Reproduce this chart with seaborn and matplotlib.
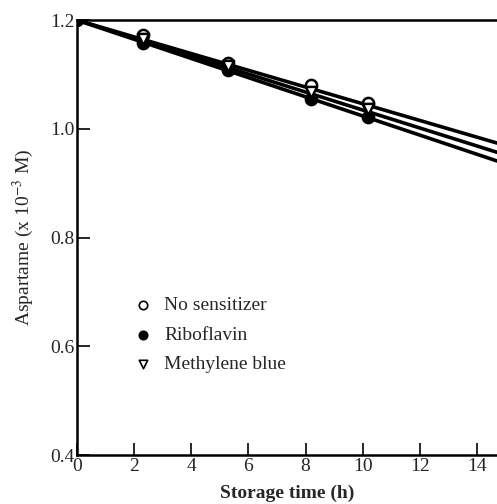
import pandas as pd
import seaborn as sns
import matplotlib.pyplot as plt

time_h = [2.3, 5.3, 8.2, 10.2]
no_sensitizer = [1.172, 1.121, 1.080, 1.047]
riboflavin = [1.158, 1.108, 1.055, 1.022]
methylene_blue = [1.165, 1.115, 1.068, 1.036]

# Fitted lines (end points)
fit_time = [0, 14.7]
fit_no_sensitizer = [1.2, 0.974]
fit_riboflavin = [1.2, 0.941]
fit_methylene_blue = [1.2, 0.957]

series = ['No sensitizer', 'Riboflavin', 'Methylene blue']
points = {'No sensitizer': no_sensitizer, 'Riboflavin': riboflavin, 'Methylene blue': methylene_blue}
fits = {'No sensitizer': fit_no_sensitizer, 'Riboflavin': fit_riboflavin, 'Methylene blue': fit_methylene_blue}
styles = {
    'No sensitizer': dict(marker='o', facecolor='white'),
    'Riboflavin': dict(marker='o', facecolor='black'),
    'Methylene blue': dict(marker='v', facecolor='white'),
}

sns.set_style('ticks')
plt.rcParams['font.family'] = ['Liberation Serif', 'DejaVu Serif']
plt.rcParams['mathtext.fontset'] = 'stix'

fig = plt.figure(figsize=(4.97, 5.04), dpi=100)
ax = fig.add_axes([0.155, 0.097, 0.845, 0.863])

fit_df = pd.concat([pd.DataFrame({'t': fit_time, 'y': fits[s], 'series': s}) for s in series])
sns.lineplot(data=fit_df, x='t', y='y', units='series', estimator=None, color='black',
             linewidth=2.6, ax=ax, legend=False, zorder=2)

# starting point at t=0
sns.scatterplot(x=[0], y=[1.2], color='black', s=80, edgecolor='black', ax=ax, zorder=4)

for s in series:
    st = styles[s]
    sns.scatterplot(x=time_h, y=points[s], marker=st['marker'], s=65,
                    facecolor=st['facecolor'], edgecolor='black', linewidth=1.8,
                    ax=ax, label=s, zorder=3 if s == 'Riboflavin' else 4)

ax.set_xlim(0, 14.7)
ax.set_ylim(0.4, 1.2)
ax.set_xticks(range(0, 15, 2))
ax.set_yticks([0.4, 0.6, 0.8, 1.0, 1.2])
ax.set_yticklabels(['0.4', '0.6', '0.8', '1.0', '1.2'])
ax.tick_params(direction='in', length=9, width=1.4, labelsize=14, pad=2)

for side in ['left', 'bottom', 'top']:
    ax.spines[side].set_linewidth(1.8)
    ax.spines[side].set_color('black')
ax.spines['right'].set_visible(False)

ax.set_xlabel('Storage time (h)', fontsize=14, fontweight='bold', labelpad=7)
ax.set_ylabel('Aspartame (x 10$^{-3}$ M)', fontsize=14, labelpad=10)

leg = ax.legend(loc='upper left', bbox_to_anchor=(0.12, 0.365), frameon=False,
                fontsize=14, handletextpad=0.3, handlelength=1.6, labelspacing=0.62,
                markerscale=0.75, borderaxespad=0, borderpad=0)
for h in leg.legend_handles:
    h.set_linewidth(1.2)

plt.savefig('out.png', dpi=100)
